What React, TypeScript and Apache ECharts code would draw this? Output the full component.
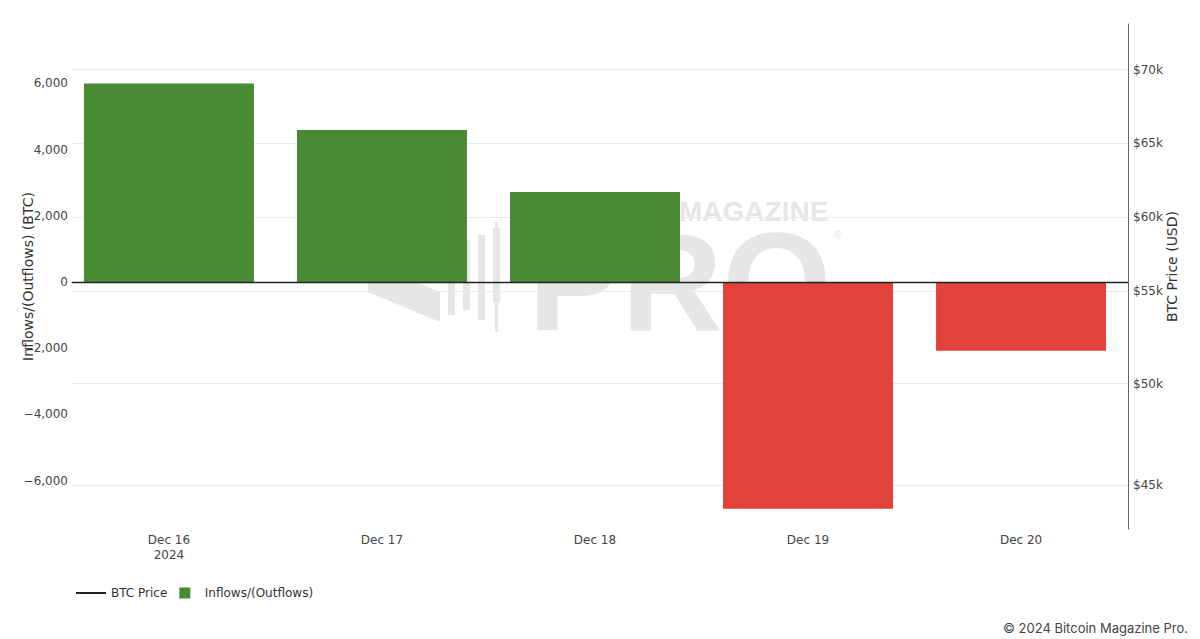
import React, { useEffect, useRef } from "react";
import * as echarts from "echarts";

// ---- data ----
const dateLabels = ["Dec 16\n2024", "Dec 17", "Dec 18", "Dec 19", "Dec 20"];
const flows = [5990, 4590, 2720, -6850, -2080];
const priceTicks = [45000, 50000, 55000, 60000, 65000, 70000];
const btcPrice: number[] = []; // price line lies outside the visible price range
const flowMin = -7460;
const flowMax = 7790;
const priceMin = 42720;
const priceMax = 73820;

const GREEN = "#498a35";
const RED = "#e1433b";
const FONT = "DejaVu Sans";

function fmtNum(v: number) {
  const s = Math.abs(v).toLocaleString("en-US");
  return v < 0 ? "\u2212" + s : s;
}

export default function App() {
  const ref = useRef<HTMLDivElement>(null);
  useEffect(() => {
    if (!ref.current) return;
    const chart = echarts.init(ref.current, null, { renderer: "svg" });
    const wm = "#e6e6e6";
    chart.setOption({
      animation: false,
      backgroundColor: "#ffffff",
      grid: { left: 72, right: 72, top: 24, bottom: 110, containLabel: false, outerBoundsMode: "none" },
      legend: {
        left: 71,
        top: 582,
        itemWidth: 30,
        itemHeight: 11,
        itemGap: 12,
        symbolKeepAspect: true,
        textStyle: { fontFamily: FONT, fontSize: 12, color: "#333" },
        data: [
          { name: "BTC Price", icon: "path://M0 0H30V2H0Z" },
          { name: "Inflows/(Outflows)", icon: "path://M0 0H10V10H0Z" },
        ],
      },
      graphic: [
        {
          type: "group",
          z: 0,
          silent: true,
          children: [
            { type: "polygon", z: 0, shape: { points: [[368, 262], [440, 292], [440, 322], [368, 292]] }, style: { fill: wm } },
            { type: "polygon", z: 0, shape: { points: [[398, 250], [440, 232], [440, 262], [398, 280]] }, style: { fill: wm } },
            { type: "rect", z: 0, shape: { x: 448, y: 255, width: 7, height: 60 }, style: { fill: wm } },
            { type: "rect", z: 0, shape: { x: 463, y: 240, width: 7, height: 70 }, style: { fill: wm } },
            { type: "rect", z: 0, shape: { x: 478, y: 235, width: 7, height: 85 }, style: { fill: wm } },
            { type: "rect", z: 0, shape: { x: 493, y: 228, width: 7, height: 75 }, style: { fill: wm } },
            { type: "rect", z: 0, shape: { x: 495, y: 222, width: 3, height: 110 }, style: { fill: wm } },
            {
              type: "text",
              z: 0,
              style: { x: 528, y: 281, text: "PRO", font: "bold 140px 'Liberation Sans'", lineHeight: 100, fill: wm, textAlign: "left", textVerticalAlign: "middle" },
            },
            {
              type: "text",
              z: 0,
              style: { x: 679, y: 211, text: "MAGAZINE", font: "bold 28px 'Liberation Sans'", lineHeight: 24, fill: wm, textAlign: "left", textVerticalAlign: "middle" },
            },
            {
              type: "text",
              z: 0,
              style: { x: 834, y: 234, text: "\u00ae", font: "10px 'Liberation Sans'", lineHeight: 10, fill: wm, textAlign: "left", textVerticalAlign: "middle" },
            },
          ],
        },
        {
          type: "text",
          right: 12,
          top: 621,
          z: 10,
          style: { text: "\u00a9 2024 Bitcoin Magazine Pro.", font: "13px Inter", fill: "#444" },
        },
      ],
      xAxis: {
        type: "value",
        min: -0.455,
        max: 4.502,
        axisLine: { show: true, lineStyle: { color: "#444", width: 1 } },
        axisTick: { show: false },
        splitLine: { show: false },
        axisLabel: {
          showMinLabel: false,
          showMaxLabel: false,
          margin: 3,
          color: "#444",
          fontFamily: FONT,
          fontSize: 12,
          lineHeight: 15,
          formatter: (v: number) => (Number.isInteger(v) ? dateLabels[Math.abs(v)] ?? "" : ""),
        },
      },
      yAxis: [
        {
          type: "value",
          position: "left",
          min: flowMin,
          max: flowMax,
          splitNumber: 7,
          axisLine: { show: false },
          axisTick: { show: false },
          splitLine: { show: false },
          axisLabel: {
            showMinLabel: false,
            showMaxLabel: false,
            margin: 4,
            color: "#444",
            fontFamily: FONT,
            fontSize: 12,
            formatter: (v: number) => fmtNum(v),
          },
          name: "Inflows/(Outflows) (BTC)",
          nameLocation: "middle",
          nameRotate: 90,
          nameGap: 37,
          nameMoveOverlap: false,
          nameTextStyle: { fontFamily: FONT, fontSize: 14, color: "#333" },
        },
        {
          type: "value",
          position: "right",
          min: Math.log(priceMin),
          max: Math.log(priceMax),
          axisLine: { show: true, lineStyle: { color: "#666", width: 1 } },
          axisTick: { show: false },
          axisLabel: { show: false },
          splitLine: { show: false },
          name: "BTC Price (USD)",
          nameLocation: "middle",
          nameRotate: 90,
          nameGap: 37,
          nameMoveOverlap: false,
          nameTextStyle: { fontFamily: FONT, fontSize: 14, color: "#333", padding: [0, 0, 0, 20] },
        },
      ],
      series: [
        {
          name: "BTC Price",
          type: "line",
          yAxisIndex: 1,
          data: btcPrice.map((p, i) => [i, Math.log(p)]),
          symbol: "none",
          color: "#222",
          lineStyle: { color: "#222", width: 2 },
          z: 1,
          markLine: {
            silent: true,
            z: 1,
            symbol: ["none", "none"],
            lineStyle: { color: "#ebebeb", width: 1, type: "solid" },
            label: {
              show: true,
              position: "end",
              distance: 5,
              formatter: "{b}",
              color: "#444",
              fontFamily: FONT,
              fontSize: 12,
            },
            data: priceTicks.map((v) => ({ name: `$${v / 1000}k`, yAxis: Math.log(v) })),
          },
        },
        {
          name: "Inflows/(Outflows)",
          type: "bar",
          yAxisIndex: 0,
          barWidth: 170,
          color: GREEN,
          z: 3,
          data: flows.map((v, i) => ({ value: [i, v], itemStyle: { color: v >= 0 ? GREEN : RED } })),
          markLine: {
            silent: true,
            z: 5,
            symbol: ["none", "none"],
            lineStyle: { color: "#222", width: 1.3, type: "solid" },
            label: { show: false },
            data: [{ yAxis: 0 }],
          },
        },
      ],
    });
    return () => chart.dispose();
  }, []);
  return (
    <div
      ref={ref}
      style={{ position: "fixed", left: 0, top: 0, width: 1200, height: 639, background: "#fff" }}
    />
  );
}
